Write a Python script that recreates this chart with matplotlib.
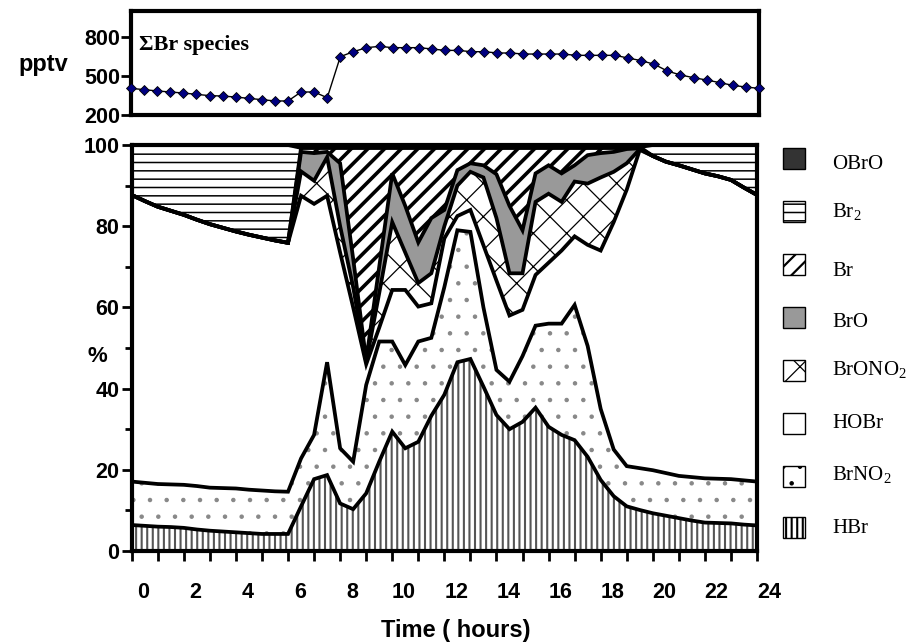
import numpy as np
import matplotlib
matplotlib.use("Agg")
import matplotlib.pyplot as plt
from matplotlib.patches import Rectangle
from matplotlib.transforms import ScaledTranslation

# time axis: half-hourly model output, 0..24 h
hours = np.linspace(0, 24, 49)

# total bromine (pptv), top panel
total_br = [405, 395, 385, 377, 369, 359, 349, 346, 338, 328, 318, 308, 308,
            377, 377, 333, 649, 687, 718, 728, 718, 718, 718, 708, 697, 697,
            687, 687, 677, 677, 669, 669, 669, 669, 659, 659, 659, 659, 638,
            618, 590, 538, 508, 487, 469, 449, 428, 415, 405]

# species fractions (%), bottom to top of the stack
hbr = [6.4, 6.2, 6.0, 5.9, 5.7, 5.3, 5.0, 4.8, 4.6, 4.4, 4.2, 4.2, 4.2,
       11.0, 17.7, 18.7, 11.7, 10.3, 14.2, 22.0, 29.4, 25.3, 26.9, 33.3, 38.5,
       46.5, 47.3, 40.5, 33.5, 30.0, 31.8, 35.3, 30.6, 28.6, 27.3, 23.2, 17.5,
       13.5, 11.0, 10.1, 9.3, 8.7, 8.1, 7.5, 7.0, 6.9, 6.8, 6.5, 6.3]
brno2 = [10.7, 10.6, 10.5, 10.5, 10.6, 10.7, 10.6, 10.7, 10.8, 10.7, 10.7, 10.5, 10.4,
         11.8, 10.9, 27.8, 13.6, 11.7, 26.7, 29.6, 22.2, 20.5, 24.7, 19.2, 26.5,
         32.5, 31.3, 19.5, 11.1, 11.7, 16.2, 20.2, 25.4, 27.4, 33.3, 27.3, 17.5,
         11.5, 9.9, 10.3, 10.6, 10.5, 10.4, 10.7, 10.9, 10.9, 10.9, 10.9, 10.8]
hobr = [70.6, 69.4, 68.3, 67.4, 66.5, 65.6, 64.9, 64.1, 63.3, 62.8, 62.3, 61.8, 61.3,
        64.7, 56.9, 41.0, 48.2, 38.0, 5.1, 3.4, 12.7, 18.5, 8.6, 8.5, 12.0,
        3.5, 5.4, 15.3, 22.0, 16.3, 11.4, 12.5, 15.0, 18.0, 16.9, 24.9, 39.0,
        56.0, 68.1, 78.4, 77.4, 76.7, 76.5, 75.8, 75.1, 74.5, 73.7, 72.1, 70.6]
brono2 = [0, 0, 0, 0, 0, 0, 0, 0, 0, 0, 0, 0, 0,
          6.0, 5.7, 9.5, 6.5, 5.0, 0.5, 8.5, 16.7, 9.2, 5.8, 7.4, 3.0,
          7.5, 9.4, 16.7, 15.4, 10.4, 9.0, 18.0, 17.0, 12.0, 13.5, 15.1, 18.0,
          12.4, 6.5, 0.2, 0, 0, 0, 0, 0, 0, 0, 0, 0]
bro = [0, 0, 0, 0, 0, 0, 0, 0, 0, 0, 0, 0, 0,
       4.8, 6.8, 1.3, 15.5, 7.0, 0.5, 6.5, 12.0, 11.5, 10.0, 13.6, 4.0,
       3.8, 2.1, 3.0, 10.8, 16.6, 10.6, 7.0, 7.0, 7.0, 4.0, 7.0, 6.0,
       4.9, 3.5, 0.2, 0, 0, 0, 0, 0, 0, 0, 0, 0]
br = [0, 0, 0, 0, 0, 0, 0, 0, 0, 0, 0, 0, 0,
      1.0, 1.3, 1.0, 3.8, 27.3, 52.3, 29.3, 6.3, 14.3, 23.3, 17.3, 15.3,
      5.5, 3.8, 4.3, 6.5, 14.3, 20.3, 6.3, 4.3, 6.3, 4.3, 1.8, 1.3,
      1.0, 0.3, 0.3, 0, 0, 0, 0, 0, 0, 0, 0, 0]
br2 = [12.3, 13.8, 15.2, 16.2, 17.2, 18.4, 19.5, 20.4, 21.3, 22.1, 22.8, 23.5, 24.1,
       0, 0, 0, 0, 0, 0, 0, 0, 0, 0, 0, 0,
       0, 0, 0, 0, 0, 0, 0, 0, 0, 0, 0, 0,
       0, 0, 0, 2.7, 4.1, 5.0, 6.0, 7.0, 7.7, 8.6, 10.5, 12.3]
obro = [0, 0, 0, 0, 0, 0, 0, 0, 0, 0, 0, 0, 0,
        0.7, 0.7, 0.7, 0.7, 0.7, 0.7, 0.7, 0.7, 0.7, 0.7, 0.7, 0.7,
        0.7, 0.7, 0.7, 0.7, 0.7, 0.7, 0.7, 0.7, 0.7, 0.7, 0.7, 0.7,
        0.7, 0.7, 0.5, 0, 0, 0, 0, 0, 0, 0, 0, 0]

names = ["HBr", "BrNO$_2$", "HOBr", "BrONO$_2$", "BrO", "Br", "Br$_2$", "OBrO"]
layers = [hbr, brno2, hobr, brono2, bro, br, br2, obro]

# fill style per layer: (facecolor, hatch, hatch colour, hatch linewidth)
styles = [("white", "|||", "#555555", 1.5),
          ("white", ".", "#888888", 0.8),
          ("white", None, "black", 1.0),
          ("white", "x", "black", 0.9),
          ("#999999", None, "black", 1.0),
          ("white", "//", "black", 2.6),
          ("white", "--", "black", 1.1),
          ("#333333", None, "black", 1.0)]

plt.rcParams["font.family"] = "Liberation Sans"
plt.rcParams["font.weight"] = "bold"
plt.rcParams["mathtext.fontset"] = "custom"
plt.rcParams["mathtext.rm"] = "Liberation Serif"
plt.rcParams["mathtext.it"] = "Liberation Serif"
plt.rcParams["mathtext.default"] = "regular"


def hatch_width(artist, lw):
    if hasattr(artist, "set_hatch_linewidth"):
        artist.set_hatch_linewidth(lw)
    else:
        artist._hatch_linewidth = lw


fig = plt.figure(figsize=(9.12, 6.44), dpi=100)
W, H = 912.0, 644.0
ax_top = fig.add_axes([131 / W, 1 - 115 / H, (759 - 131) / W, (115 - 11) / H])
ax = fig.add_axes([131.7 / W, 1 - 551 / H, (757 - 131.7) / W, (551 - 145) / H])

# ---- top panel
ax_top.plot(hours, total_br, color="black", lw=1, marker="D", ms=5.5,
            mfc="#000080", mec="black", mew=0.6, clip_on=False, zorder=3)
ax_top.set_xlim(0, 24)
ax_top.set_ylim(200, 1000)
ax_top.set_yticks([200, 500, 800])
ax_top.set_xticks([])
ax_top.tick_params(axis="y", length=7, width=2, labelsize=15.5, pad=1)
for s in ax_top.spines.values():
    s.set_linewidth(3)
ax_top.text((139 - 131) / 628, (115 - 50) / 104, "\u03a3Br species",
            transform=ax_top.transAxes, family="Liberation Serif",
            weight="bold", size=16, va="baseline")
fig.text(18 / W, 1 - 64 / H, "pptv", size=17, weight="bold", va="center")

# ---- main stacked panel
cum = np.cumsum(np.array(layers, dtype=float), axis=0)
bottoms = np.vstack([np.zeros(len(hours)), cum[:-1]])
for (fc, hatch, hc, hlw), lo, hi in zip(styles, bottoms, cum):
    coll = ax.fill_between(hours, lo, hi, facecolor=fc, hatch=hatch,
                           edgecolor=hc, linewidth=0, zorder=1)
    hatch_width(coll, hlw)
for top in cum[:-1]:
    ax.plot(hours, top, color="black", lw=2.7, solid_joinstyle="miter", zorder=2)

ax.set_xlim(0, 24)
ax.set_ylim(0, 100)
ax.set_yticks([0, 20, 40, 60, 80, 100])
ax.set_yticks([10, 30, 50, 70, 90], minor=True)
ax.set_xticks(range(0, 25, 2))
ax.set_xticks(range(0, 25), minor=True)
ax.tick_params(axis="both", which="both", width=2)
ax.tick_params(axis="y", which="major", length=7, labelsize=15.5, pad=2)
ax.tick_params(axis="y", which="minor", length=5)
ax.tick_params(axis="x", which="both", length=7, labelsize=15.5, pad=15)
shift = ScaledTranslation(8.5 / 72, 0, fig.dpi_scale_trans)
for lab in ax.get_xticklabels():
    lab.set_transform(lab.get_transform() + shift)
for s in ax.spines.values():
    s.set_linewidth(3)
    s.set_zorder(4)

fig.text(97 / W, 1 - 357 / H, "%", size=16, weight="bold", ha="center", va="center")
fig.text(456 / W, 1 - 630 / H, "Time ( hours)", size=17, weight="bold",
         ha="center", va="center")

# ---- legend, top entry first
box_y = [158.5, 211, 264, 318, 370, 423, 476, 527]
text_y = [169, 217, 276, 327, 375, 428, 480, 533]
for k, (yc, yt) in enumerate(zip(box_y, text_y)):
    i = len(layers) - 1 - k
    fc, hatch, hc, hlw = styles[i]
    rect = Rectangle((783 / W, 1 - (yc + 10.5) / H), 22 / W, 21 / H,
                     transform=fig.transFigure, facecolor=fc, hatch=hatch,
                     edgecolor="black", lw=1)
    hatch_width(rect, min(hlw, 1.6))
    fig.patches.append(rect)
    fig.text(832 / W, 1 - yt / H, names[i], family="Liberation Serif",
             weight="normal", size=15, va="baseline")

fig.savefig("out.png", dpi=100)
